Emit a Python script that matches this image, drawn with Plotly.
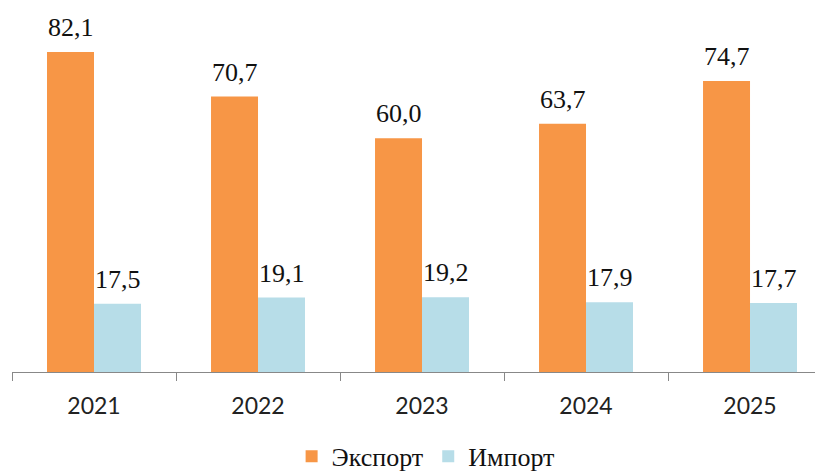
import plotly.graph_objects as go

years = ["2021", "2022", "2023", "2024", "2025"]
export_vals = [82.1, 70.7, 60.0, 63.7, 74.7]
import_vals = [17.5, 19.1, 19.2, 17.9, 17.7]
series_names = ["Экспорт", "Импорт"]
colors = ["#F79646", "#B7DDE8"]

bargap = 0.427
half = (1 - bargap) / 4  # center offset of each bar in group

fig = go.Figure()
for name, vals, col in zip(series_names, [export_vals, import_vals], colors):
    fig.add_trace(go.Bar(
        x=years, y=vals, name=name, marker=dict(color=col, line=dict(width=0)),
    ))

annotations = []
for si, vals in enumerate([export_vals, import_vals]):
    off = -half if si == 0 else half
    for i, v in enumerate(vals):
        annotations.append(dict(
            x=i + off, y=v, xref="x", yref="y",
            text=f"{v:.1f}".replace(".", ","),
            showarrow=False, yanchor="bottom", yshift=8,
            font=dict(family="Liberation Serif", size=26, color="#111111"),
        ))

fig.update_layout(
    width=815, height=467,
    margin=dict(l=4, r=0, t=2, b=103, autoexpand=False),
    paper_bgcolor="white", plot_bgcolor="white",
    barmode="group", bargap=bargap, bargroupgap=0,
    separators=", ",
    annotations=annotations,
    showlegend=True,
    legend=dict(
        orientation="h", x=0.51, xanchor="center",
        yref="container", y=0.04, yanchor="middle",
        font=dict(family="Liberation Serif", size=26, color="#111111"),
        itemwidth=30, traceorder="normal",
    ),
    xaxis=dict(
        type="category", range=[-0.5, 4.445],
        showline=True, linecolor="#888888", linewidth=1,
        ticks="outside", tickson="boundaries", ticklen=8, tickcolor="#888888",
        tickfont=dict(family="Lato", size=23, color="#222222"),
        ticklabelstandoff=13,
        showgrid=False, zeroline=False,
    ),
    yaxis=dict(range=[0, 92.9], visible=False, showgrid=False, zeroline=False),
)

fig.write_html("out.html")
